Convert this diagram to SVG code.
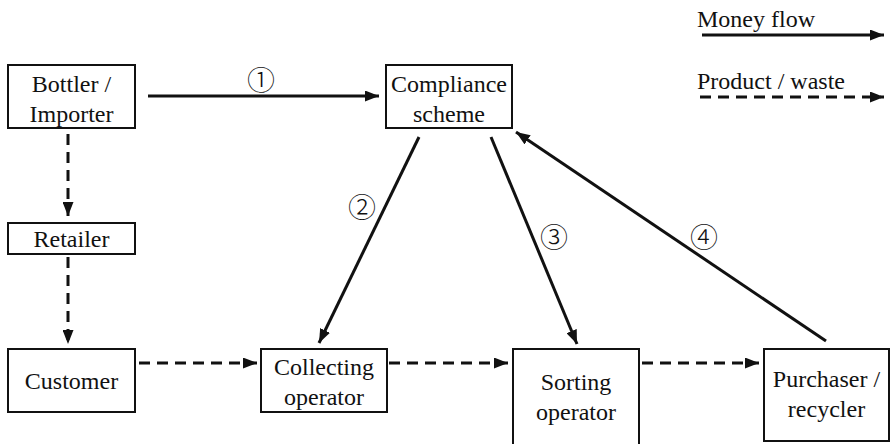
<svg xmlns="http://www.w3.org/2000/svg" width="891" height="444" viewBox="0 0 891 444" font-family="'Liberation Serif', 'Times New Roman', Tinos, 'Noto Serif', 'DejaVu Serif', 'Nimbus Roman', FreeSerif, serif">
  <style>
    .box { fill: #fff; stroke: #111; stroke-width: 2; }
    .lbl { font-size: 24px; fill: #111; text-anchor: middle; }
    .leg { font-size: 24px; fill: #111; }
    .num { font-family: 'Noto Sans CJK SC', 'DejaVu Sans', sans-serif; font-size: 28px; fill: #111; text-anchor: middle; font-weight: 300; }
    .money { stroke: #111; stroke-width: 3; fill: none; marker-end: url(#head); }
    .goods { stroke: #111; stroke-width: 3; fill: none; stroke-dasharray: 11 7; marker-end: url(#head); }
  </style>
  <defs>
    <marker id="head" viewBox="0 0 14 11" refX="14" refY="5.5" markerWidth="14" markerHeight="11" markerUnits="userSpaceOnUse" orient="auto">
      <path d="M0,0 L14,5.5 L0,11 Z" fill="#111"/>
    </marker>
  </defs>
  <rect width="891" height="444" fill="#fff"/>

  <!-- legend -->
  <g id="legend">
    <text class="leg" x="697" y="27" font-family="Liberation Serif, serif">Money flow</text>
    <line class="money" x1="702" y1="35" x2="884" y2="35"/>
    <text class="leg" x="697" y="89" font-family="Liberation Serif, serif">Product / waste</text>
    <line class="goods" x1="700" y1="97" x2="884" y2="97"/>
  </g>

  <!-- connectors -->
  <g id="connectors">
    <line class="money" x1="148" y1="96" x2="379" y2="96"/>
    <line class="money" x1="419" y1="137" x2="319" y2="343"/>
    <line class="money" x1="491" y1="137" x2="577" y2="344"/>
    <line class="money" x1="826" y1="341" x2="516" y2="132"/>
    <line class="goods" x1="68" y1="134" x2="68" y2="216"/>
    <line class="goods" x1="68" y1="257" x2="68" y2="344"/>
    <line class="goods" x1="139" y1="363" x2="257" y2="363"/>
    <line class="goods" x1="389" y1="363" x2="508" y2="363"/>
    <line class="goods" x1="642" y1="363" x2="759" y2="363"/>
    <text class="num" x="261" y="91">①</text>
    <text class="num" x="362" y="218">②</text>
    <text class="num" x="554" y="248">③</text>
    <text class="num" x="704" y="248">④</text>
  </g>

  <g id="bottler">
    <rect class="box" x="8" y="65" width="127" height="63"/>
    <text class="lbl" x="71.5" y="92">Bottler /</text>
    <text class="lbl" x="71.5" y="122">Importer</text>
  </g>
  <g id="compliance">
    <rect class="box" x="386" y="65" width="126" height="63"/>
    <text class="lbl" x="449" y="92">Compliance</text>
    <text class="lbl" x="449" y="122">scheme</text>
  </g>
  <g id="retailer">
    <rect class="box" x="8" y="223" width="127" height="31"/>
    <text class="lbl" x="71.5" y="247">Retailer</text>
  </g>
  <g id="customer">
    <rect class="box" x="8" y="349" width="127" height="63"/>
    <text class="lbl" x="71.5" y="389">Customer</text>
  </g>
  <g id="collecting">
    <rect class="box" x="261" y="349" width="126" height="63"/>
    <text class="lbl" x="324" y="375">Collecting</text>
    <text class="lbl" x="324" y="405">operator</text>
  </g>
  <g id="sorting">
    <rect class="box" x="513" y="349" width="126" height="100"/>
    <text class="lbl" x="576" y="390">Sorting</text>
    <text class="lbl" x="576" y="420">operator</text>
  </g>
  <g id="purchaser">
    <rect class="box" x="764" y="349" width="125" height="92"/>
    <text class="lbl" x="826.5" y="387">Purchaser /</text>
    <text class="lbl" x="826.5" y="417">recycler</text>
  </g>
</svg>
